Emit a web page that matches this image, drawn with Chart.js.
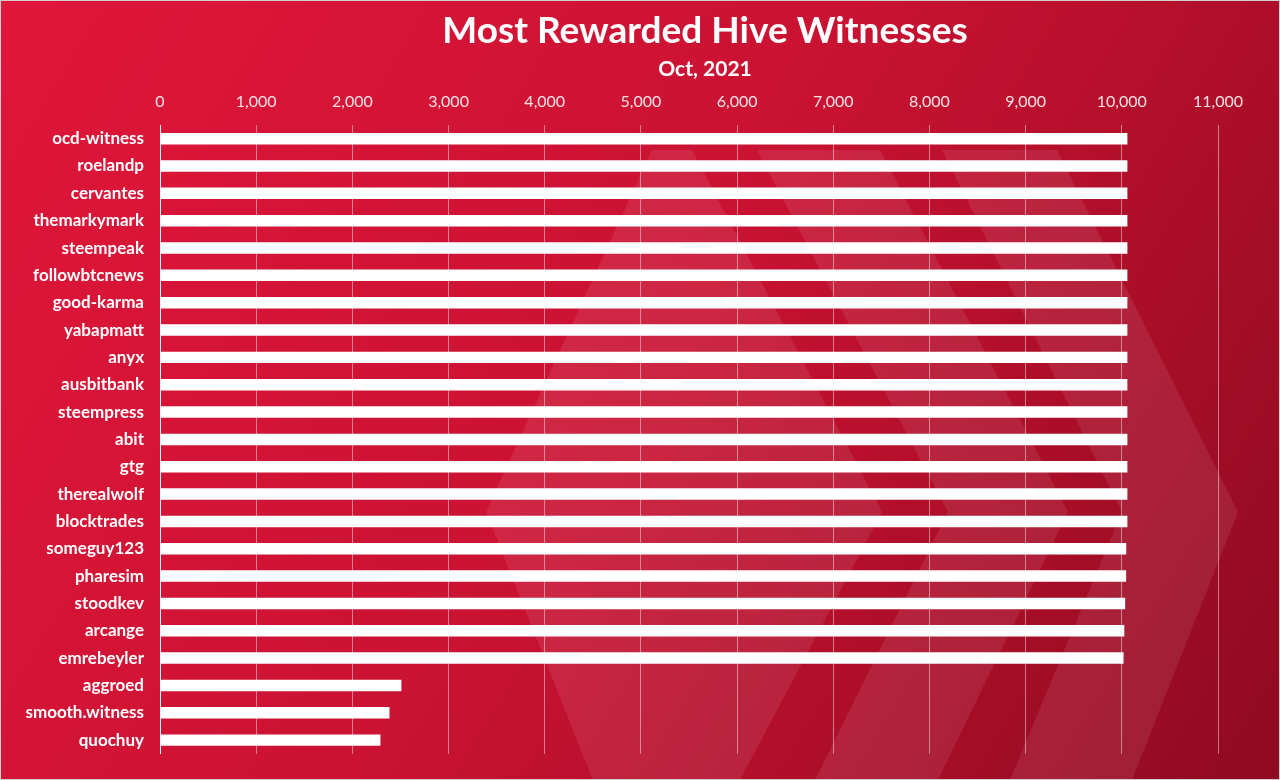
<!DOCTYPE html>
<html>
<head>
<meta charset="utf-8">
<script src="https://cdn.jsdelivr.net/npm/chart.js@4"></script>
<style>
  html, body { margin: 0; padding: 0; background: #ffffff; }
  #wrap { width: 1280px; height: 780px; position: relative; }
</style>
</head>
<body>
<div id="wrap"><canvas id="c" width="1280" height="780"></canvas></div>
<script>
const titleText = "Most Rewarded Hive Witnesses";
const subtitleText = "Oct, 2021";

const witnesses = [
  "ocd-witness", "roelandp", "cervantes", "themarkymark", "steempeak",
  "followbtcnews", "good-karma", "yabapmatt", "anyx", "ausbitbank",
  "steempress", "abit", "gtg", "therealwolf", "blocktrades",
  "someguy123", "pharesim", "stoodkev", "arcange", "emrebeyler",
  "aggroed", "smooth.witness", "quochuy"
];

const rewards = [
  10058, 10058, 10058, 10058, 10058,
  10058, 10058, 10058, 10058, 10058,
  10058, 10058, 10058, 10058, 10058,
  10046, 10045, 10035, 10026, 10018,
  2510, 2386, 2292
];

const axisMin = 0;
const axisMax = 11000;
const axisStep = 1000;

const backgroundPlugin = {
  id: "bgPlugin",
  beforeDraw(chart) {
    const ctx = chart.ctx;
    const w = chart.width, h = chart.height;
    ctx.save();
    const g = ctx.createLinearGradient(0, 0, w, h);
    g.addColorStop(0, "#e0163a");
    g.addColorStop(0.5, "#c91232");
    g.addColorStop(1, "#8e0a20");
    ctx.fillStyle = g;
    ctx.fillRect(0, 0, w, h);
    // faint logo watermark
    ctx.fillStyle = "rgba(255,255,255,0.085)";
    const shapes = [
      [[652,150],[692,150],[882,512],[740,780],[593,780],[486,512]],
      [[757,150],[880,150],[1068,512],[938,780],[815,780],[948,512]],
      [[942,150],[1057,150],[1238,512],[1132,780],[1010,780],[1122,512]]
    ];
    shapes.forEach(s => {
      ctx.beginPath();
      ctx.moveTo(s[0][0], s[0][1]);
      for (let i = 1; i < s.length; i++) ctx.lineTo(s[i][0], s[i][1]);
      ctx.closePath();
      ctx.fill();
    });
    ctx.restore();
  },
  afterDraw(chart) {
    const ctx = chart.ctx;
    ctx.save();
    ctx.fillStyle = "#ffffff";
    ctx.textAlign = "center";
    ctx.textBaseline = "middle";
    ctx.font = "bold 37px Lato";
    ctx.fillText(titleText, 705, 31);
    ctx.font = "bold 21px Lato";
    ctx.fillText(subtitleText, 705, 69);
    ctx.strokeStyle = "#cfcfcf";
    ctx.lineWidth = 1;
    ctx.strokeRect(0.5, 0.5, chart.width - 1, chart.height - 1);
    ctx.restore();
  }
};

new Chart(document.getElementById("c"), {
  type: "bar",
  data: {
    labels: witnesses,
    datasets: [{
      label: "Rewards",
      data: rewards,
      backgroundColor: "#ffffff",
      borderWidth: 0,
      barPercentage: 0.42,
      categoryPercentage: 1.0
    }]
  },
  options: {
    indexAxis: "y",
    responsive: false,
    animation: false,
    devicePixelRatio: 1,
    layout: { padding: { top: 80, right: 62, bottom: 25, left: 0 } },
    plugins: {
      legend: { display: false },
      tooltip: { enabled: false },
      title: { display: false }
    },
    scales: {
      x: {
        position: "top",
        min: axisMin,
        max: axisMax,
        ticks: {
          stepSize: axisStep,
          color: "rgba(255,255,255,0.88)",
          font: { family: "Lato", size: 16 },
          padding: 14,
          callback: v => v.toLocaleString("en-US")
        },
        grid: { color: "rgba(255,255,255,0.45)", lineWidth: 1, drawTicks: false },
        border: { display: false },
        afterFit(scale) { scale.height = 45; }
      },
      y: {
        ticks: {
          color: "#ffffff",
          font: { family: "Lato", size: 17, weight: "bold" },
          padding: 16
        },
        grid: { display: false, drawTicks: false },
        border: { display: true, color: "rgba(255,255,255,0.9)", width: 1 },
        afterFit(scale) { scale.width = 160; }
      }
    }
  },
  plugins: [backgroundPlugin]
});
</script>
</body>
</html>
